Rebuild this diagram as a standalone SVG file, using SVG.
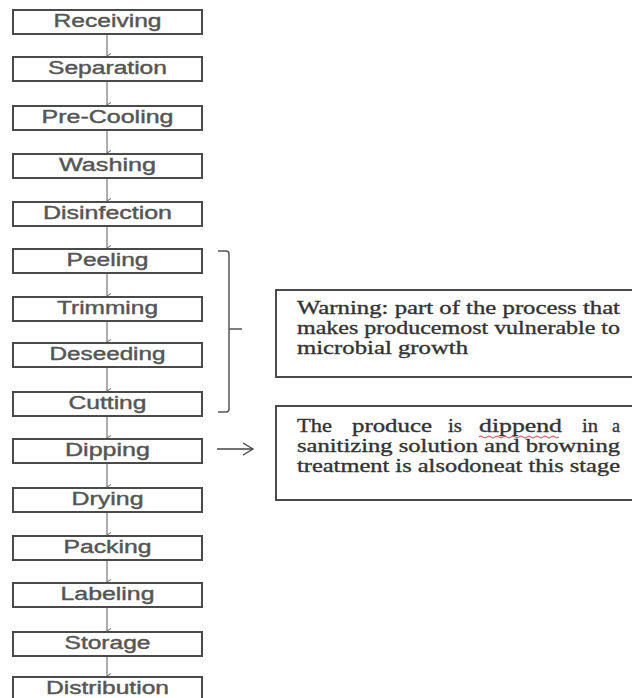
<svg xmlns="http://www.w3.org/2000/svg" width="632" height="698" viewBox="0 0 632 698">
<defs>
<marker id="ah" viewBox="0 0 6 6" refX="3" refY="5" markerWidth="6" markerHeight="6" markerUnits="userSpaceOnUse" orient="auto-start-reverse">
<path d="M0.5,1 L3,5 L5.5,1" fill="none" stroke="#666" stroke-width="1"/>
</marker>
<style>
.box{fill:#fff;stroke:#4a4a4a;stroke-width:2}
.lbl{font-family:"Liberation Sans",Arial,sans-serif;font-size:18px;fill:#555;text-anchor:middle;stroke:#555;stroke-width:0.4}
.note{font-family:"Liberation Serif","Times New Roman",serif;font-size:19px;fill:#333;stroke:#333;stroke-width:0.35}
.conn{stroke:#777;stroke-width:1.2;fill:none}
.nbox{fill:#fff;stroke:#4a4a4a;stroke-width:2}
</style>
</defs>
<rect width="632" height="698" fill="#fff"/>
<g id="connectors">
<line class="conn" x1="107" y1="34" x2="107" y2="56" marker-end="url(#ah)"/>
<line class="conn" x1="107" y1="81" x2="107" y2="105" marker-end="url(#ah)"/>
<line class="conn" x1="107" y1="130" x2="107" y2="153" marker-end="url(#ah)"/>
<line class="conn" x1="107" y1="178" x2="107" y2="201" marker-end="url(#ah)"/>
<line class="conn" x1="107" y1="226" x2="107" y2="248" marker-end="url(#ah)"/>
<line class="conn" x1="107" y1="273" x2="107" y2="296" marker-end="url(#ah)"/>
<line class="conn" x1="107" y1="321" x2="107" y2="342" marker-end="url(#ah)"/>
<line class="conn" x1="107" y1="367" x2="107" y2="391" marker-end="url(#ah)"/>
<line class="conn" x1="107" y1="416" x2="107" y2="438" marker-end="url(#ah)"/>
<line class="conn" x1="107" y1="463" x2="107" y2="487" marker-end="url(#ah)"/>
<line class="conn" x1="107" y1="512" x2="107" y2="535" marker-end="url(#ah)"/>
<line class="conn" x1="107" y1="560" x2="107" y2="582" marker-end="url(#ah)"/>
<line class="conn" x1="107" y1="607" x2="107" y2="631" marker-end="url(#ah)"/>
<line class="conn" x1="107" y1="656" x2="107" y2="676" marker-end="url(#ah)"/>
<path d="M218,251 L226,251 Q229,251 229,254 L229,409 Q229,412 226,412 L218,412" stroke="#555" stroke-width="1.5" fill="none"/>
<line x1="229" y1="329" x2="242" y2="329" stroke="#555" stroke-width="1.5"/>
<line x1="217" y1="449" x2="252" y2="449" stroke="#444" stroke-width="1.3"/>
<path d="M243,443 L253,449 L243,455" stroke="#444" stroke-width="1.3" fill="none"/>
</g>
<g id="n-receiving"><rect class="box" x="13" y="10" width="189" height="24"/><text class="lbl" x="107.5" y="26.5" textLength="108" lengthAdjust="spacingAndGlyphs">Receiving</text></g>
<g id="n-separation"><rect class="box" x="13" y="57" width="189" height="24"/><text class="lbl" x="107.5" y="73.5" textLength="119" lengthAdjust="spacingAndGlyphs">Separation</text></g>
<g id="n-precooling"><rect class="box" x="13" y="106" width="189" height="24"/><text class="lbl" x="107.5" y="122.5" textLength="132" lengthAdjust="spacingAndGlyphs">Pre-Cooling</text></g>
<g id="n-washing"><rect class="box" x="13" y="154" width="189" height="24"/><text class="lbl" x="107.5" y="170.5" textLength="97" lengthAdjust="spacingAndGlyphs">Washing</text></g>
<g id="n-disinfection"><rect class="box" x="13" y="202" width="189" height="24"/><text class="lbl" x="107.5" y="218.5" textLength="129" lengthAdjust="spacingAndGlyphs">Disinfection</text></g>
<g id="n-peeling"><rect class="box" x="13" y="249" width="189" height="24"/><text class="lbl" x="107.5" y="265.5" textLength="82" lengthAdjust="spacingAndGlyphs">Peeling</text></g>
<g id="n-trimming"><rect class="box" x="13" y="297" width="189" height="24"/><text class="lbl" x="107.5" y="313.5" textLength="101" lengthAdjust="spacingAndGlyphs">Trimming</text></g>
<g id="n-deseeding"><rect class="box" x="13" y="343" width="189" height="24"/><text class="lbl" x="107.5" y="359.5" textLength="116" lengthAdjust="spacingAndGlyphs">Deseeding</text></g>
<g id="n-cutting"><rect class="box" x="13" y="392" width="189" height="24"/><text class="lbl" x="107.5" y="408.5" textLength="78" lengthAdjust="spacingAndGlyphs">Cutting</text></g>
<g id="n-dipping"><rect class="box" x="13" y="439" width="189" height="24"/><text class="lbl" x="107.5" y="455.5" textLength="85" lengthAdjust="spacingAndGlyphs">Dipping</text></g>
<g id="n-drying"><rect class="box" x="13" y="488" width="189" height="24"/><text class="lbl" x="107.5" y="504.5" textLength="72" lengthAdjust="spacingAndGlyphs">Drying</text></g>
<g id="n-packing"><rect class="box" x="13" y="536" width="189" height="24"/><text class="lbl" x="107.5" y="552.5" textLength="88" lengthAdjust="spacingAndGlyphs">Packing</text></g>
<g id="n-labeling"><rect class="box" x="13" y="583" width="189" height="24"/><text class="lbl" x="107.5" y="599.5" textLength="94" lengthAdjust="spacingAndGlyphs">Labeling</text></g>
<g id="n-storage"><rect class="box" x="13" y="632" width="189" height="24"/><text class="lbl" x="107.5" y="648.5" textLength="86" lengthAdjust="spacingAndGlyphs">Storage</text></g>
<g id="n-distribution"><rect class="box" x="13" y="677" width="189" height="24"/><text class="lbl" x="107.5" y="693.5" textLength="123" lengthAdjust="spacingAndGlyphs">Distribution</text></g>
<g id="n-warning">
<rect class="nbox" x="276" y="290" width="362" height="87"/>
<text class="note" x="297" y="314" textLength="323" lengthAdjust="spacingAndGlyphs">Warning: part of the process that</text>
<text class="note" x="297" y="334" textLength="323" lengthAdjust="spacingAndGlyphs">makes producemost vulnerable to</text>
<text class="note" x="297" y="354" textLength="171" lengthAdjust="spacingAndGlyphs">microbial growth</text>
</g>
<g id="n-dipnote">
<rect class="nbox" x="276" y="406" width="362" height="94"/>
<text class="note" y="432"><tspan x="297" textLength="35" lengthAdjust="spacingAndGlyphs">The</tspan><tspan x="352" textLength="80" lengthAdjust="spacingAndGlyphs">produce</tspan><tspan x="448" textLength="14" lengthAdjust="spacingAndGlyphs">is</tspan><tspan x="479" textLength="83" lengthAdjust="spacingAndGlyphs">dippend</tspan><tspan x="582" textLength="16" lengthAdjust="spacingAndGlyphs">in</tspan><tspan x="612" textLength="8" lengthAdjust="spacingAndGlyphs">a</tspan></text>
<path d="M479,437 q2,-2 4,0 t4,0 t4,0 t4,0 t4,0 t4,0 t4,0 t4,0 t4,0 t4,0 t4,0 t4,0 t4,0 t4,0 t4,0 t4,0 t4,0 t4,0 t4,0 t4,0" fill="none" stroke="#d04040" stroke-width="1"/>
<text class="note" x="297" y="452" textLength="323" lengthAdjust="spacingAndGlyphs">sanitizing solution and browning</text>
<text class="note" x="297" y="472" textLength="323" lengthAdjust="spacingAndGlyphs">treatment is alsodoneat this stage</text>
</g>
</svg>
